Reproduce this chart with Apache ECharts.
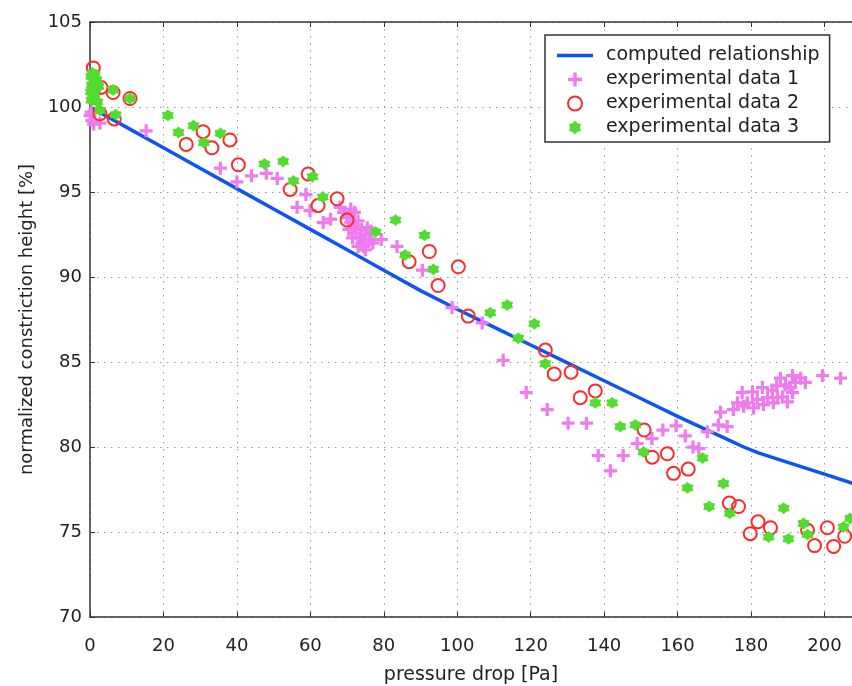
<!DOCTYPE html>
<html>
<head>
<meta charset="utf-8">
<script src="https://cdn.jsdelivr.net/npm/echarts@6/dist/echarts.min.js"></script>
<style>html,body{margin:0;padding:0;background:#fff;}#chart{width:852px;height:686px;}</style>
</head>
<body>
<div id="chart"></div>
<script>
// ---- data ----
const seriesNames = ['computed relationship', 'experimental data 1', 'experimental data 2', 'experimental data 3'];
const xTicks = [0, 20, 40, 60, 80, 100, 120, 140, 160, 180, 200];
const yTicks = [70, 75, 80, 85, 90, 95, 100, 105];

const computed = [
  [0,100.0],[10,98.8],[20,97.6],[30,96.4],[40,95.2],[50,94.0],[60,92.8],[70,91.6],[80,90.4],[90,89.2],
  [100,88.1],[110,87.05],[120,86.0],[130,84.95],[140,83.9],[150,82.85],[160,81.8],[165,81.3],[170,80.8],
  [174,80.4],[178,80.0],[182,79.65],[190,79.1],[200,78.4],[210,77.7]
];

const exp1 = [
  [0,99.5],[0.5,99.2],[1,99.0],[2.7,99.05],[0.3,99.7],
  [15.3,98.6],
  [35.5,96.4],[40,95.6],[44,95.95],[48,96.1],[51,95.8],
  [56.4,94.1],[58.8,94.85],[59.9,93.9],[63.5,93.2],[65.5,93.4],[68.1,94.1],
  [70,93.5],[71,93.2],[72,93.0],[72.5,92.6],[73,93.3],[73.5,92.3],[74,92.8],[74,92.0],[74.5,91.8],
  [75,92.5],[75,91.6],[75.5,92.9],[76,92.2],[73,91.8],[71.5,92.3],[72,93.8],[70.5,92.8],[76.5,92.7],
  [77,92.0],[71,94.0],[69,93.8],
  [79.3,92.2],[83.6,91.8],[90.5,90.4],[98.6,88.2],[106.8,87.3],[112.5,85.1],[118.8,83.2],[124.5,82.2],
  [130.2,81.4],[135.2,81.4],
  [138.4,79.5],[141.7,78.6],[145.2,79.5],[149,80.2],[153,80.5],[156,81.0],[159.6,81.25],[162.1,80.65],
  [164.2,80.0],[165.8,79.9],[168.1,80.9],[171.1,81.3],[171.7,82.05],[173.5,81.2],[175.2,82.2],
  [176.3,82.6],[177.6,83.2],[178,82.4],[179,82.6],[180.4,83.25],[180.7,82.3],[181.7,82.8],[183.1,83.5],
  [183.4,82.5],[184.5,82.9],[185.8,83.35],[186.1,82.6],[187.2,82.9],[188,84.05],[188.6,82.95],[189.4,83.65],
  [189.9,82.65],[191.3,84.2],[191.3,83.2],[192.1,83.8],[193.5,84.05],[194.8,83.8],[190.5,83.5],[187,83.6],
  [199.5,84.2],[204.4,84.05]
];

const exp2 = [
  [0.9,102.3],[3.0,101.15],[6.3,100.85],[10.9,100.5],[2.7,99.6],[6.6,99.3],
  [26.2,97.8],[30.8,98.55],[33.2,97.6],[38.1,98.06],[40.4,96.6],
  [54.5,95.15],[59.4,96.06],[62.1,94.2],[67.3,94.6],[70,93.35],
  [86.9,90.9],[92.4,91.5],[94.8,89.5],[100.3,90.6],[103,87.7],
  [124,85.7],[126.4,84.3],[131,84.4],[133.5,82.9],[137.6,83.3],
  [150.9,81.0],[153.1,79.4],[157.2,79.6],[158.9,78.45],[162.9,78.7],
  [174.1,76.7],[176.6,76.5],[179.8,74.9],[181.9,75.6],[185.3,75.25],
  [195.4,75.1],[197.3,74.2],[200.8,75.25],[202.5,74.15],[205.5,74.75]
];

const exp3 = [
  [0.3,101.8],[0.5,101.3],[0.8,100.8],[1.0,101.5],[1.2,100.5],[1.5,101.0],[1.8,101.6],[2.0,100.3],
  [0.4,100.4],[2.3,101.2],[0.7,102.0],[1.3,101.9],[0.2,100.9],
  [6.3,101.0],[10.9,100.5],[2.7,99.8],[7,99.55],
  [21.2,99.5],[24.1,98.5],[28.2,98.9],[31,97.9],[35.5,98.45],
  [47.5,96.65],[52.6,96.8],[55.4,95.65],[60.6,95.9],[63.4,94.7],
  [77.8,92.65],[83.2,93.35],[85.8,91.3],[91.1,92.45],[93.5,90.45],
  [109,87.9],[113.6,88.35],[116.6,86.4],[121,87.25],[124,84.9],
  [137.6,82.6],[142.2,82.6],[144.4,81.2],[148.5,81.3],[150.7,79.7],
  [162.7,77.6],[166.8,79.35],[168.6,76.5],[172.5,77.85],[174.2,76.1],
  [184.8,74.7],[188.9,76.4],[190.2,74.6],[194.3,75.5],[195.4,74.85],[205.2,75.3],[207,75.8]
];

// ---- chart ----
const FONT = 'DejaVu Sans';
const TXT = '#222';
const LINE_COLOR = '#0d55f2';
const plusPath = 'path://M7.5,0H12.5V7.5H20V12.5H12.5V20H7.5V12.5H0V7.5H7.5Z';
const starPath = 'path://M10,0L13.5,3.94L18.66,5L17,10L18.66,15L13.5,16.06L10,20L6.5,16.06L1.34,15L3,10L1.34,5L6.5,3.94Z';
const linePath = 'path://M0,0H36V3.5H0Z';

const chart = echarts.init(document.getElementById('chart'), null, {renderer: 'canvas'});
const xMin = xTicks[0], xMax = 207.5, yMin = yTicks[0], yMax = yTicks[yTicks.length - 1];

chart.setOption({
  animation: false,
  backgroundColor: '#fff',
  grid: {left: 90, right: 0, top: 22, bottom: 69, containLabel: false, outerBoundsMode: 'none'},
  legend: {
    orient: 'vertical', left: 545, top: 35,
    padding: [11, 10, 5, 12],
    itemWidth: 36, itemHeight: 14, itemGap: 5,
    backgroundColor: '#fff', borderColor: '#333', borderWidth: 1.5,
    textStyle: {fontFamily: FONT, fontSize: 19, color: TXT, padding: [0, 0, 0, 8]},
    data: [
      {name: seriesNames[0], icon: linePath, itemStyle: {color: LINE_COLOR}},
      seriesNames[1], seriesNames[2], seriesNames[3]
    ]
  },
  xAxis: [{
    type: 'value', min: xMin, max: xMax, interval: 20,
    name: 'pressure drop [Pa]', nameLocation: 'middle', nameGap: 49,
    nameTextStyle: {fontFamily: FONT, fontSize: 19, color: TXT},
    axisLine: {lineStyle: {color: '#333', width: 1.5}},
    axisTick: {inside: true, length: 5, lineStyle: {color: '#333'}},
    axisLabel: {fontFamily: FONT, fontSize: 18, color: TXT, margin: 20,
      formatter: v => (xTicks.indexOf(v) >= 0 ? String(v) : '')},
    splitLine: {show: true, lineStyle: {color: '#999', width: 1, type: [1.5, 5.5]}}
  }, {
    type: 'value', position: 'top', min: xMin, max: xMax, interval: 20,
    axisLine: {show: true, lineStyle: {color: '#333', width: 1.5}},
    axisTick: {show: true, inside: true, length: 5, lineStyle: {color: '#333'}},
    axisLabel: {show: false}, splitLine: {show: false}
  }],
  yAxis: {
    type: 'value', min: yMin, max: yMax, interval: 5,
    name: 'normalized constriction height [%]', nameLocation: 'middle', nameGap: 54,
    nameTextStyle: {fontFamily: FONT, fontSize: 18, color: TXT},
    axisLine: {show: true, lineStyle: {color: '#333', width: 1.5}},
    axisTick: {show: true, inside: true, length: 5, lineStyle: {color: '#333'}},
    axisLabel: {fontFamily: FONT, fontSize: 18, color: TXT, margin: 8},
    splitLine: {show: true, lineStyle: {color: '#999', width: 1, type: [1.5, 5.5]}}
  },
  series: [{
    name: seriesNames[0], type: 'line', data: computed, showSymbol: false, symbol: 'none',
    lineStyle: {color: LINE_COLOR, width: 3.5}, itemStyle: {color: LINE_COLOR}, z: 2
  }, {
    name: seriesNames[1], type: 'scatter', data: exp1, symbol: plusPath, symbolSize: 13,
    itemStyle: {color: '#ee7cee', opacity: 1}, z: 3
  }, {
    name: seriesNames[2], type: 'scatter', data: exp2, symbol: 'circle', symbolSize: 13,
    itemStyle: {color: 'rgba(0,0,0,0)', borderColor: '#ff2b2b', borderWidth: 2, opacity: 1}, z: 4
  }, {
    name: seriesNames[3], type: 'scatter', data: exp3, symbol: starPath, symbolSize: 12,
    itemStyle: {color: '#52dc30', opacity: 1}, z: 5
  }]
});
</script>
</body>
</html>
